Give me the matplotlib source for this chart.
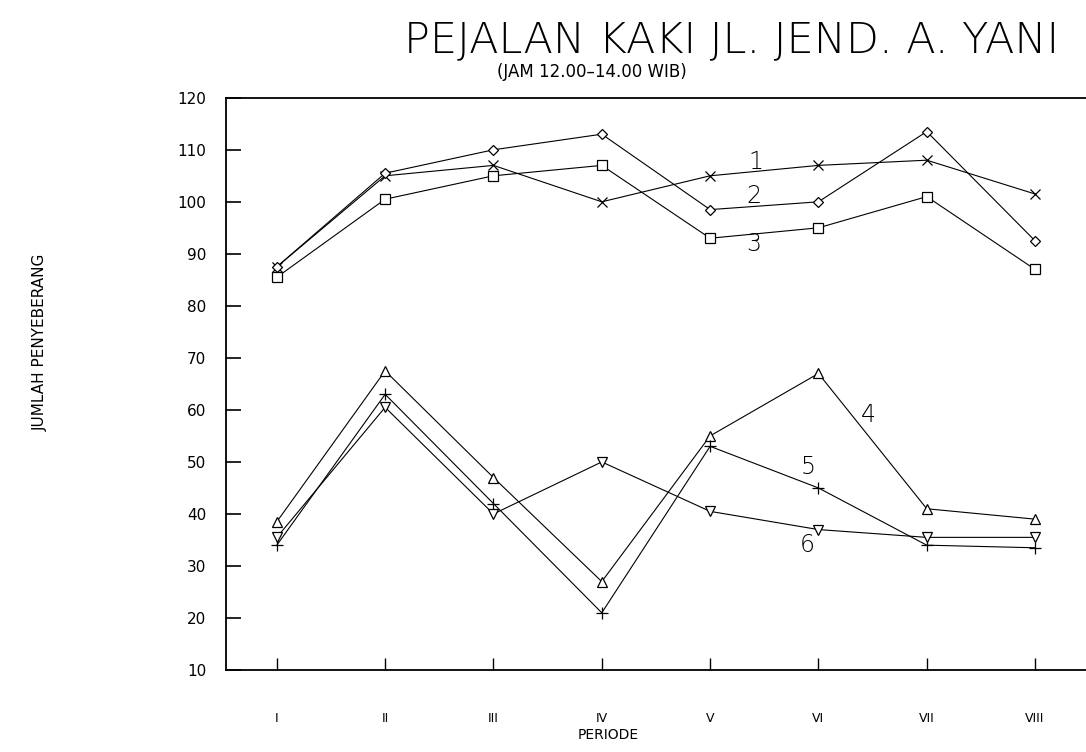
import matplotlib
matplotlib.use("Agg")
import matplotlib.pyplot as plt

# data
periode = ["I", "II", "III", "IV", "V", "VI", "VII", "VIII"]
seri_1 = [87.5, 105, 107, 100, 105, 107, 108, 101.5]     # x
seri_2 = [87.5, 105.5, 110, 113, 98.5, 100, 113.5, 92.5]  # diamond
seri_3 = [85.5, 100.5, 105, 107, 93, 95, 101, 87]         # square
seri_4 = [38.5, 67.5, 47, 27, 55, 67, 41, 39]             # triangle up
seri_5 = [34, 63, 42, 21, 53, 45, 34, 33.5]               # plus
seri_6 = [35.5, 60.5, 40, 50, 40.5, 37, 35.5, 35.5]       # triangle down
label_nomor = ["1", "2", "3", "4", "5", "6"]
label_x = [5.42, 5.40, 5.40, 6.46, 5.91, 5.90]
label_y = [107.6, 101.2, 91.9, 59, 49.1, 34.1]
yticks = list(range(10, 121, 10))

fig = plt.figure(figsize=(10.86, 7.52), dpi=100)
ax = fig.add_axes([0.208, 0.109, 0.792, 0.761])

x = list(range(1, len(periode) + 1))
kw = dict(color="black", lw=0.8, mfc="white", mec="black", mew=0.9)
ax.plot(x, seri_1, marker="x", ms=7, **kw)
ax.plot(x, seri_2, marker="D", ms=5, **kw)
ax.plot(x, seri_3, marker="s", ms=7, **kw)
ax.plot(x, seri_4, marker="^", ms=7, **kw)
ax.plot(x, seri_5, marker="+", ms=8, **kw)
ax.plot(x, seri_6, marker="v", ms=7, **kw)

for t, tx, ty in zip(label_nomor, label_x, label_y):
    ax.text(tx, ty, t, fontsize=17, ha="center", va="center", fontweight="light")

ax.set_xlim(0.53, 8.47)
ax.set_ylim(10, 120)
ax.set_xticks(x)
ax.set_xticklabels(periode, fontsize=9)
ax.set_yticks(yticks)
ax.set_yticklabels([str(v) for v in yticks], fontsize=11)
ax.tick_params(axis="y", direction="in", length=11, width=1.2, pad=14)
ax.tick_params(axis="x", direction="in", length=9, width=1, pad=30)
ax.spines["right"].set_visible(False)
for s in ["left", "bottom", "top"]:
    ax.spines[s].set_linewidth(1.3)

fig.text(0.674, 0.947, "PEJALAN KAKI JL. JEND. A. YANI", fontsize=31,
         ha="center", va="center", fontweight="light")
fig.text(0.545, 0.904, "(JAM 12.00\u201314.00 WIB)", fontsize=12,
         ha="center", va="center")
fig.text(0.037, 0.545, "JUMLAH PENYEBERANG", fontsize=11, rotation=90,
         ha="center", va="center")
fig.text(0.56, 0.022, "PERIODE", fontsize=10, ha="center", va="center")

fig.savefig("out.png", dpi=100)
